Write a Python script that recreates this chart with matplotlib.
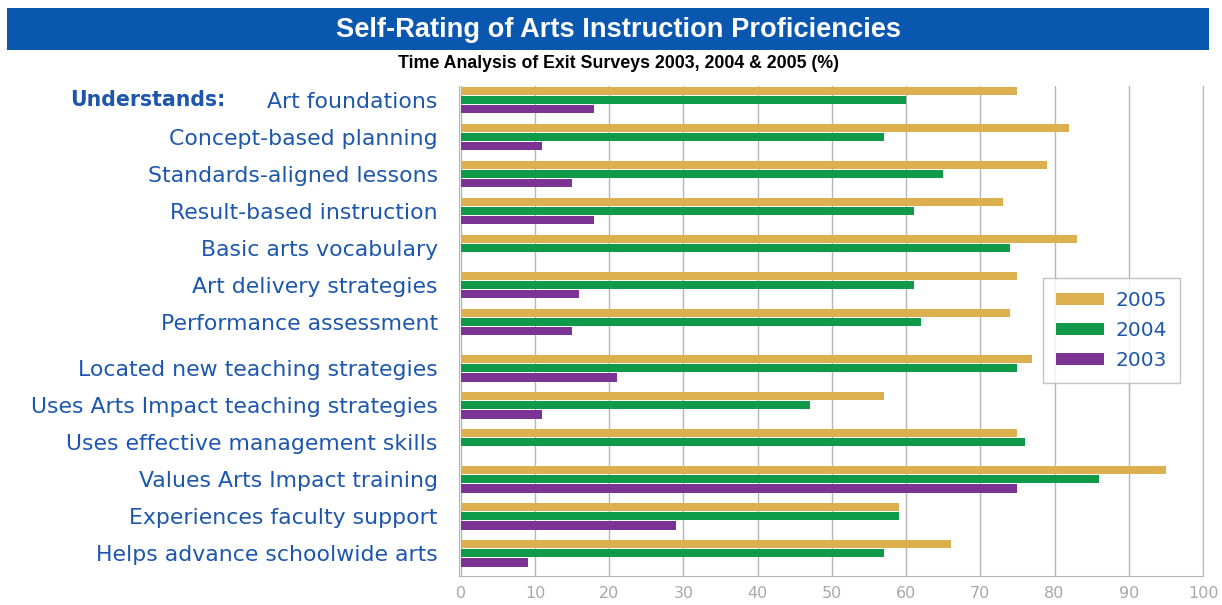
import numpy as np
import matplotlib.pyplot as plt
from matplotlib.patches import Rectangle

# Data
categories = [
    "Art foundations",
    "Concept-based planning",
    "Standards-aligned lessons",
    "Result-based instruction",
    "Basic arts vocabulary",
    "Art delivery strategies",
    "Performance assessment",
    "Located new teaching strategies",
    "Uses Arts Impact teaching strategies",
    "Uses effective management skills",
    "Values Arts Impact training",
    "Experiences faculty support",
    "Helps advance schoolwide arts",
]
y2005 = [75, 82, 79, 73, 83, 75, 74, 77, 57, 75, 95, 59, 66]
y2004 = [60, 57, 65, 61, 74, 61, 62, 75, 47, 76, 86, 59, 57]
y2003 = [18, 11, 15, 18, 0, 16, 15, 21, 11, 0, 75, 29, 9]
years = ["2005", "2004", "2003"]
colors = ["#dcb04e", "#0e9a48", "#7b3493"]
xticks = [0, 10, 20, 30, 40, 50, 60, 70, 80, 90, 100]

label_blue = "#1d57ad"

fig = plt.figure(figsize=(12.22, 6.05), dpi=100)

# title banner
fig.patches.append(Rectangle((7 / 1222, 1 - 50 / 605), 1202 / 1222, 42 / 605,
                             transform=fig.transFigure, facecolor="#0a57b0",
                             edgecolor="none", zorder=0))
fig.text(619 / 1222, 1 - 30 / 605, "Self-Rating of Arts Instruction Proficiencies",
         color="white", fontsize=19.6, fontweight="bold", ha="center", va="center",
         family=["Liberation Sans Narrow", "Liberation Sans"])
fig.text(619 / 1222, 1 - 63 / 605, "Time Analysis of Exit Surveys 2003, 2004 & 2005 (%)",
         color="black", fontsize=12.8, fontweight="bold", ha="center", va="center",
         family=["Liberation Sans Narrow", "Liberation Sans"])

ax = fig.add_axes([458.5 / 1222, 1 - 576 / 605, (1203 - 458.5) / 1222, (576 - 86) / 605])

# group positions with an extra gap after the first seven items
pos = np.array([i + (0.25 if i >= 7 else 0) for i in range(len(categories))])
h = 0.22
off = 0.245
for k, (vals, c, lab) in enumerate(zip([y2005, y2004, y2003], colors, years)):
    ax.barh(pos + (k - 1) * off, vals, height=h, color=c, label=lab, zorder=3)

ax.set_xlim(-0.3, 100)
ax.set_ylim(pos[-1] + 0.61, pos[0] - 0.38)
ax.set_xticks(xticks)
ax.set_xticklabels([str(t) for t in xticks], color="#a8a8a8", fontsize=11.5)
ax.set_yticks(pos)
ax.set_yticklabels(categories, color=label_blue, fontsize=15.8)
ax.tick_params(axis="y", length=0, pad=15)
ax.tick_params(axis="x", length=0, pad=7)
ax.grid(axis="x", color="#b5b5b5", linewidth=1, zorder=0)
for s in ["left", "bottom", "right"]:
    ax.spines[s].set_color("#b5b5b5")
ax.spines["top"].set_visible(False)

fig.text(70 / 1222, 1 - 100 / 605, "Understands:", color=label_blue, fontsize=14.8,
         fontweight="bold", ha="left", va="center")

leg = ax.legend(loc="upper left", bbox_to_anchor=((1043 - 458.5) / (1203 - 458.5), 1 - (278 - 86) / 490),
                fontsize=14.5, frameon=True, fancybox=False, handlelength=2.4,
                handleheight=0.5, labelspacing=0.55, borderpad=0.65, handletextpad=0.55,
                borderaxespad=0)
leg.get_frame().set_edgecolor("#b5b5b5")
leg.get_frame().set_linewidth(1)
for t in leg.get_texts():
    t.set_color(label_blue)

fig.savefig("out.png", dpi=100)
